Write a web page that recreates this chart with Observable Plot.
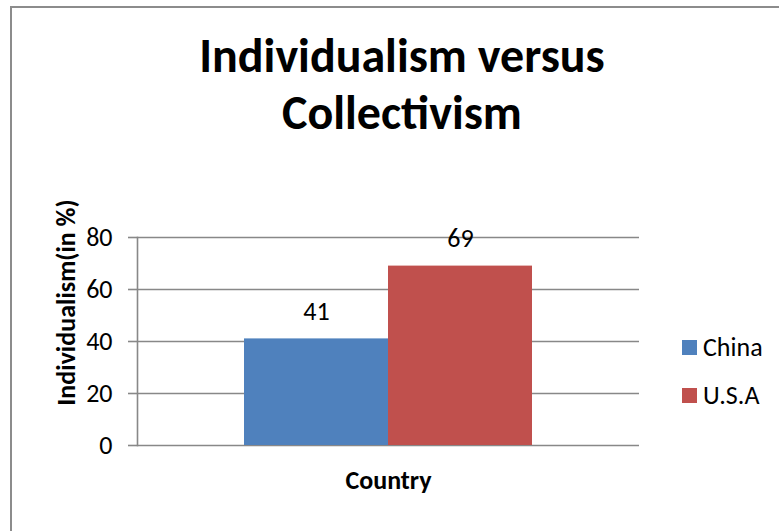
<!DOCTYPE html>
<html>
<head>
<meta charset="utf-8">
<script src="https://cdn.jsdelivr.net/npm/d3@7"></script>
<script src="https://cdn.jsdelivr.net/npm/@observablehq/plot@0.6"></script>
<style>
  html, body { margin: 0; padding: 0; background: #fff; }
  #chart {
    position: relative;
    width: 779px;
    height: 531px;
    overflow: hidden;
    font-family: Carlito, Calibri, Lato, sans-serif;
    color: #000;
  }
  #chart .outline {
    position: absolute;
    left: 10px;
    top: 6px;
    width: 800px;
    height: 600px;
    border: 2px solid #8c8c8c;
    box-sizing: border-box;
  }
  #chart .title {
    position: absolute;
    left: 10px;
    width: 784px;
    top: 27px;
    text-align: center;
    font-weight: bold;
    font-size: 48px;
    line-height: 57px;
  }
  #chart svg { position: absolute; left: 0; top: 0; }
  #chart .legend {
    position: absolute;
    left: 682px;
    top: 335px;
    font-size: 26px;
  }
  #chart .legend .row {
    display: flex;
    align-items: center;
    height: 24px;
    margin-bottom: 24px;
    white-space: nowrap;
  }
  #chart .legend .swatch {
    width: 15px;
    height: 15px;
    margin-right: 6px;
    flex: none;
  }
</style>
</head>
<body>
<div id="chart">
  <div class="outline"></div>
  <div class="title">Individualism versus<br>Collectivism</div>
</div>
<script>
// Individualism score by country
const countries = ["China", "U.S.A"];
const values = [41, 69];
const yTicks = [0, 20, 40, 60, 80];
const seriesColors = ["#4F81BD", "#C0504D"];
const yTitle = "Individualism(in %)";
const xTitle = "Country";

const data = countries.map((country, i) => ({country, value: values[i]}));
const fontFamily = "Carlito, Calibri, Lato, sans-serif";
const gray = "#888888";

const chart = Plot.plot({
  width: 779,
  height: 531,
  marginLeft: 137,
  marginRight: 140,
  marginTop: 237,
  marginBottom: 86,
  style: {fontFamily, fontSize: "26px", color: "#000", background: "transparent", overflow: "visible"},
  x: {domain: countries, paddingInner: 0, paddingOuter: 0.74, axis: null},
  y: {domain: [0, 80], ticks: yTicks},
  color: {domain: countries, range: seriesColors},
  marks: [
    Plot.gridY(yTicks, {stroke: gray, strokeOpacity: 1, strokeWidth: 1.6}),
    Plot.axisY(yTicks, {tickSize: 9, tickPadding: 16, label: null, stroke: gray, strokeWidth: 1.6, fontSize: 26, fill: "#000"}),
    Plot.frame({anchor: "left", stroke: gray, strokeWidth: 1.6}),
    Plot.barY(data, {x: "country", y: "value", fill: "country"}),
    Plot.text(data, {x: "country", y: "value", text: d => String(d.value), dy: -27, fontSize: 26, fill: "#000"}),
    Plot.text([yTitle], {frameAnchor: "left", textAnchor: "middle", rotate: -90, dx: -71, dy: -39, fontWeight: "bold", fontSize: 26, fill: "#000"}),
    Plot.text([xTitle], {frameAnchor: "bottom", dy: 43, fontWeight: "bold", fontSize: 26, fill: "#000"})
  ]
});

const root = document.getElementById("chart");
root.appendChild(chart);

// Vertical legend built from the plot's color scale
const color = chart.scale("color");
const legend = document.createElement("div");
legend.className = "legend";
color.domain.forEach((name, i) => {
  const row = document.createElement("div");
  row.className = "row";
  const sw = document.createElement("span");
  sw.className = "swatch";
  sw.style.background = color.range[i];
  const label = document.createElement("span");
  label.textContent = name;
  row.appendChild(sw);
  row.appendChild(label);
  legend.appendChild(row);
});
root.appendChild(legend);
</script>
</body>
</html>
